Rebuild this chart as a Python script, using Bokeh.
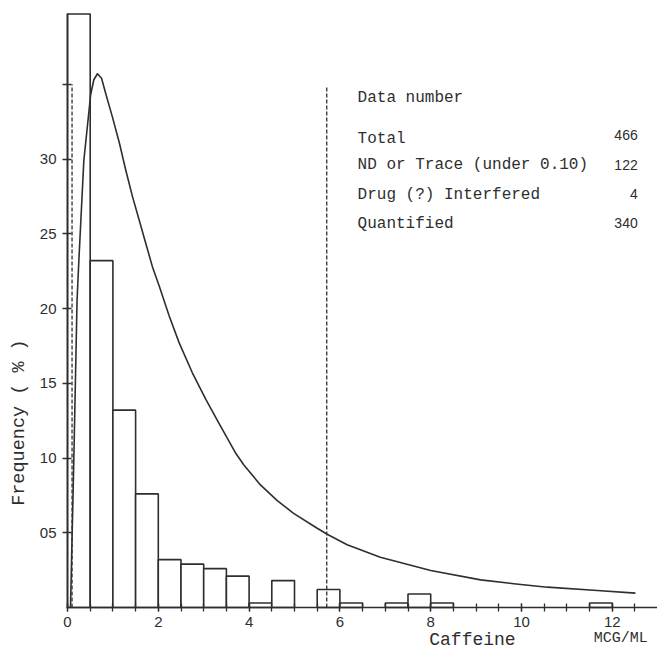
import math
from bokeh.plotting import figure
from bokeh.models import FixedTicker, Label, Range1d
from bokeh.embed import file_html
from bokeh.resources import INLINE

# ---- data ----
bin_left = [0.0, 0.5, 1.0, 1.5, 2.0, 2.5, 3.0, 3.5, 4.0, 4.5, 5.0, 5.5, 6.0,
            6.5, 7.0, 7.5, 8.0, 8.5, 9.0, 9.5, 10.0, 10.5, 11.0, 11.5, 12.0]
bin_width = 0.5
freq_pct = [39.7, 23.2, 13.2, 7.6, 3.2, 2.9, 2.6, 2.1, 0.3, 1.8, 0.0, 1.2, 0.3,
            0.0, 0.3, 0.9, 0.3, 0.0, 0.0, 0.0, 0.0, 0.0, 0.0, 0.3, 0.0]

curve_x = [0.066, 0.14, 0.21, 0.25, 0.36, 0.51, 0.58, 0.66, 0.75, 0.84, 0.99,
           1.14, 1.28, 1.43, 1.58, 1.72, 1.87, 2.02, 2.24, 2.46, 2.75, 3.05,
           3.34, 3.71, 3.88, 4.25, 4.62, 4.98, 5.50, 5.72, 6.16, 6.89, 8.00,
           9.10, 9.83, 10.57, 11.67, 12.51]
curve_y = [0.0, 10.0, 20.5, 23.2, 29.9, 34.3, 35.3, 35.7, 35.4, 34.4, 32.8,
           31.1, 29.3, 27.5, 25.9, 24.4, 22.8, 21.5, 19.5, 17.7, 15.7, 13.9,
           12.3, 10.3, 9.55, 8.2, 7.15, 6.3, 5.3, 4.9, 4.2, 3.36, 2.47,
           1.85, 1.59, 1.36, 1.14, 0.96]

dashed_x = [0.1, 5.71]
dashed_top = [35.0, 34.8]

x_tick_labels = [0, 2, 4, 6, 8, 10, 12]
y_tick_values = [5, 10, 15, 20, 25, 30, 35]
y_tick_text = ["05", "10", "15", "20", "25", "30", ""]

info_labels = ["Total", "ND or Trace (under 0.10)", "Drug (?) Interfered", "Quantified"]
info_values = ["466", "122", "4", "340"]

INK = "#2e2e2e"
MONO = "Liberation Mono"
SANS = "Liberation Sans"

p = figure(width=657, height=650,
           x_range=Range1d(-1.4758, 12.9956), y_range=Range1d(-2.876, 40.602),
           output_backend="svg", toolbar_location=None,
           min_border_left=0, min_border_right=0, min_border_top=0,
           min_border_bottom=0)
p.outline_line_color = None
p.xgrid.visible = False
p.ygrid.visible = False
p.background_fill_color = "white"
p.border_fill_color = "white"

# bars
lefts = [l for l, f in zip(bin_left, freq_pct) if f > 0]
tops = [f for f in freq_pct if f > 0]
rights = [l + bin_width for l in lefts]
p.quad(left=lefts, right=rights, bottom=0, top=tops, fill_color="white",
       line_color=INK, line_width=1.6)

# dashed verticals
p.segment(x0=dashed_x, y0=[0, 0], x1=dashed_x, y1=dashed_top,
          line_color=INK, line_width=1.3, line_dash="4 2")

# fitted curve
p.line(curve_x, curve_y, line_color=INK, line_width=1.6, line_join="round")

# axes (drawn at fixed data locations inside the frame)
xa = p.xaxis[0]
xa.fixed_location = 0
xa.bounds = (-0.03, 13.0)
xa.ticker = FixedTicker(ticks=x_tick_labels,
                        minor_ticks=[i * 0.5 for i in range(26)])
xa.axis_line_color = INK
xa.axis_line_width = 1.6
xa.major_tick_line_color = INK
xa.minor_tick_line_color = INK
xa.major_tick_line_width = 1.3
xa.minor_tick_line_width = 1.3
xa.major_tick_in = 4
xa.major_tick_out = 4
xa.minor_tick_in = 4
xa.minor_tick_out = 4
xa.major_label_text_font = SANS
xa.major_label_text_font_size = "15px"
xa.major_label_text_color = INK
xa.major_label_standoff = 5

ya = p.yaxis[0]
ya.fixed_location = 0
ya.bounds = (0, 39.7)
ya.ticker = FixedTicker(ticks=y_tick_values, minor_ticks=[])
ya.major_label_overrides = {v: t for v, t in zip(y_tick_values, y_tick_text)}
ya.axis_line_color = INK
ya.axis_line_width = 1.6
ya.major_tick_line_color = INK
ya.major_tick_line_width = 1.3
ya.major_tick_in = 4
ya.major_tick_out = 5
ya.minor_tick_line_color = None
ya.major_label_text_font = SANS
ya.major_label_text_font_size = "15px"
ya.major_label_text_color = INK
ya.major_label_standoff = 6

# axis titles as labels
p.add_layout(Label(x=-1.057, y=12.37, text="Frequency ( % )", angle=math.pi / 2,
                   text_align="center", text_baseline="middle",
                   text_font=MONO, text_font_size="18.5px", text_color=INK))
p.add_layout(Label(x=8.92, y=-2.17, text="Caffeine", text_align="center",
                   text_baseline="middle", text_font=MONO,
                   text_font_size="18px", text_color=INK))
p.add_layout(Label(x=11.59, y=-2.07, text="MCG/ML", text_align="left",
                   text_baseline="middle", text_font=MONO,
                   text_font_size="15px", text_color=INK))

# info block
p.add_layout(Label(x=6.39, y=34.05, text="Data number", text_align="left",
                   text_baseline="middle", text_font=MONO,
                   text_font_size="16px", text_color=INK))
label_y = [31.37, 29.57, 27.56, 25.62]
value_y = [31.6, 29.6, 27.66, 25.69]
for txt, yy in zip(info_labels, label_y):
    p.add_layout(Label(x=6.39, y=yy, text=txt, text_align="left",
                       text_baseline="middle", text_font=MONO,
                       text_font_size="16px", text_color=INK))
for txt, yy in zip(info_values, value_y):
    p.add_layout(Label(x=12.56, y=yy, text=txt, text_align="right",
                       text_baseline="middle", text_font=SANS,
                       text_font_size="14px", text_color=INK))

open("out.html", "w").write(file_html(p, INLINE))
